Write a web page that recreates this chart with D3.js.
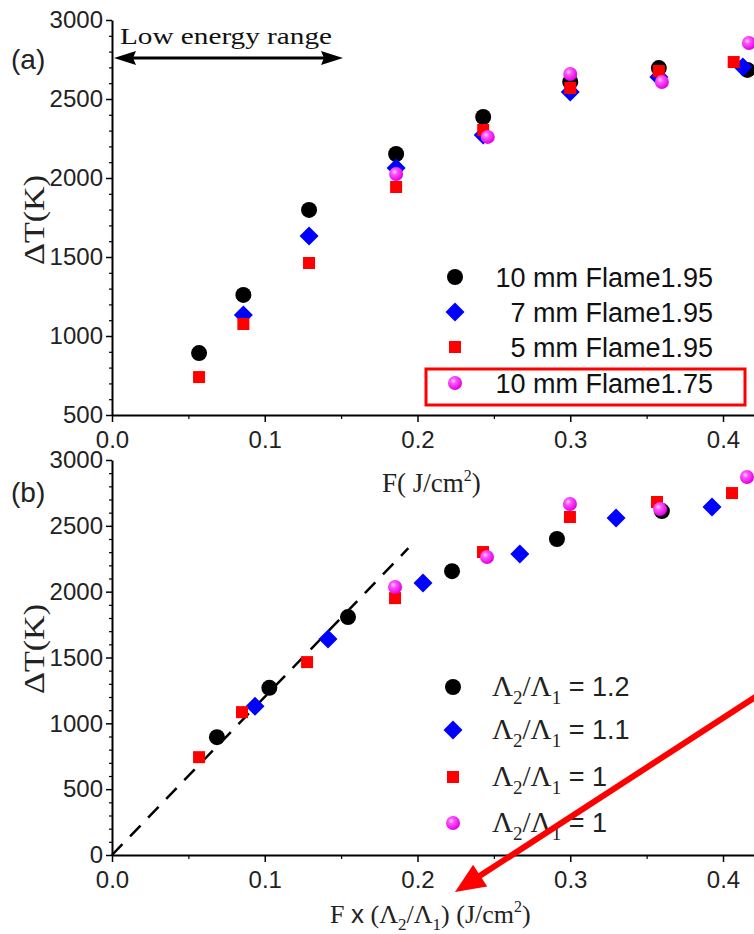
<!DOCTYPE html>
<html><head><meta charset="utf-8">
<script src="https://cdn.jsdelivr.net/npm/d3@7"></script>
<style>body{margin:0;background:#fff}svg{display:block}</style>
</head><body>
<svg id="c" width="754" height="934"></svg>
<script>
// ---------- DATA ----------
const xTicks = [0.0, 0.1, 0.2, 0.3, 0.4];
const xTickLabels = ["0.0", "0.1", "0.2", "0.3", "0.4"];
const yTicksTop = [500, 1000, 1500, 2000, 2500, 3000];
const yTicksBot = [0, 500, 1000, 1500, 2000, 2500, 3000];

// panel (a): x = F (J/cm2), y = dT (K)
const a10mm195X = [0.057, 0.086, 0.129, 0.186, 0.243, 0.300, 0.358, 0.416];
const a10mm195Y = [892, 1260, 1798, 2152, 2386, 2608, 2696, 2684];
const a7mm195X  = [0.086, 0.129, 0.186, 0.243, 0.300, 0.358, 0.413];
const a7mm195Y  = [1133, 1633, 2063, 2272, 2544, 2639, 2703];
const a5mm195X  = [0.057, 0.086, 0.129, 0.186, 0.243, 0.300, 0.358, 0.407];
const a5mm195Y  = [740, 1076, 1462, 1943, 2304, 2570, 2677, 2734];
const a10mm175X = [0.186, 0.246, 0.300, 0.360, 0.417];
const a10mm175Y = [2025, 2260, 2658, 2608, 2854];

// panel (b): x = F x (L2/L1)
const b12X  = [0.0687, 0.103, 0.1545, 0.2226, 0.2913, 0.360];
const b12Y  = [895, 1270, 1807, 2156, 2400, 2612];
const b11X  = [0.0936, 0.1414, 0.2036, 0.267, 0.330, 0.3928];
const b11Y  = [1130, 1640, 2065, 2286, 2559, 2643];
const b1X   = [0.057, 0.0851, 0.1277, 0.1853, 0.2429, 0.2998, 0.3568, 0.4059];
const b1Y   = [743, 1085, 1465, 1951, 2301, 2567, 2681, 2749];
const b1mX  = [0.1853, 0.2455, 0.2998, 0.3588, 0.4157];
const b1mY  = [2035, 2263, 2666, 2627, 2871];
const fitX  = [0, 0.194];
const fitY  = [0, 2330];

const legendA = ["10 mm Flame1.95", "7 mm Flame1.95", "5 mm Flame1.95", "10 mm Flame1.75"];
const legendB = ["1.2", "1.1", "1", "1"];

// ---------- DRAW ----------
const svg = d3.select("#c");
const SANS = "'Liberation Sans', Arial, sans-serif";
const SERIF = "'Liberation Serif', 'Times New Roman', serif";

const defs = svg.append("defs");
const g = defs.append("radialGradient").attr("id","sph").attr("cx","38%").attr("cy","35%").attr("r","65%");
g.append("stop").attr("offset","0%").attr("stop-color","#ffe0ff");
g.append("stop").attr("offset","30%").attr("stop-color","#ff55ff");
g.append("stop").attr("offset","100%").attr("stop-color","#e000e0");

const x = d3.scaleLinear().domain([0, 0.4]).range([112, 723]);
const xFull = x.copy().domain([0, x.invert(754)]).range([112, 754]);
const yTop = d3.scaleLinear().domain([500, 3000]).range([415, 20]);
const yBot = d3.scaleLinear().domain([0, 3000]).range([855, 460]);

function axes(y, yTicks, yMin) {
  const xa = svg.append("g").attr("transform", `translate(0,${y(yMin)})`)
    .call(d3.axisBottom(xFull).tickValues(xTicks).tickSize(7).tickSizeOuter(0).tickFormat((d,i)=>xTickLabels[i]));
  xa.select(".domain").attr("stroke-width", 2);
  xa.selectAll(".tick line").attr("stroke-width", 1.5);
  xa.selectAll("text").attr("font-family", SANS).attr("font-size", 24).attr("fill","#222").attr("y", 16);
  const xm = svg.append("g").attr("transform", `translate(0,${y(yMin)})`)
    .call(d3.axisBottom(xFull).tickValues([0.05,0.15,0.25,0.35]).tickSize(4).tickSizeOuter(0).tickFormat(""));
  xm.select(".domain").remove();
  xm.selectAll(".tick line").attr("stroke-width", 1.2);
  const ya = svg.append("g").attr("transform", `translate(112,0)`)
    .call(d3.axisLeft(y).tickValues(yTicks).tickSize(6).tickSizeOuter(0).tickFormat(d3.format("d")));
  ya.select(".domain").attr("stroke-width", 2);
  ya.selectAll(".tick line").attr("stroke-width", 1.5);
  ya.selectAll("text").attr("font-family", SANS).attr("font-size", 24).attr("fill","#222").attr("x", -9);
  const minors = d3.range(yMin, 3001, 100).filter(v => v % 500 !== 0);
  const ym = svg.append("g").attr("transform", `translate(112,0)`)
    .call(d3.axisLeft(y).tickValues(minors).tickSize(3).tickSizeOuter(0).tickFormat(""));
  ym.select(".domain").remove();
  ym.selectAll(".tick line").attr("stroke-width", 1.2);
}

const diamondPath = "M0,-9.5L9.5,0L0,9.5L-9.5,0Z";
function drawSeries(xs, ys, y, kind) {
  const data = xs.map((v,i)=>[v, ys[i]]);
  const grp = svg.append("g");
  if (kind === "circle") {
    grp.selectAll("circle").data(data).join("circle")
      .attr("cx", d=>x(d[0])).attr("cy", d=>y(d[1])).attr("r", 8).attr("fill","#000");
  } else if (kind === "diamond") {
    grp.selectAll("path").data(data).join("path")
      .attr("d", diamondPath).attr("transform", d=>`translate(${x(d[0])},${y(d[1])})`).attr("fill","#0000ff");
  } else if (kind === "square") {
    grp.selectAll("rect").data(data).join("rect")
      .attr("x", d=>x(d[0])-6).attr("y", d=>y(d[1])-6).attr("width",12).attr("height",12).attr("fill","#ff0000");
  } else {
    grp.selectAll("circle").data(data).join("circle")
      .attr("cx", d=>x(d[0])).attr("cy", d=>y(d[1])).attr("r", 7).attr("fill","url(#sph)");
  }
}
function marker(kind, cx, cy) {
  if (kind === "circle") svg.append("circle").attr("cx",cx).attr("cy",cy).attr("r",8).attr("fill","#000");
  else if (kind === "diamond") svg.append("path").attr("d",diamondPath).attr("transform",`translate(${cx},${cy})`).attr("fill","#0000ff");
  else if (kind === "square") svg.append("rect").attr("x",cx-6).attr("y",cy-6).attr("width",12).attr("height",12).attr("fill","#ff0000");
  else svg.append("circle").attr("cx",cx).attr("cy",cy).attr("r",7).attr("fill","url(#sph)");
}

// ----- panel (a)
axes(yTop, yTicksTop, 500);
drawSeries(a10mm195X, a10mm195Y, yTop, "circle");
drawSeries(a7mm195X, a7mm195Y, yTop, "diamond");
drawSeries(a5mm195X, a5mm195Y, yTop, "square");
drawSeries(a10mm175X, a10mm175Y, yTop, "sphere");

svg.append("text").attr("x", 11).attr("y", 69).attr("font-family", SANS).attr("font-size", 28).attr("fill","#222").text("(a)");
svg.append("text").attr("x", 120).attr("y", 44).attr("font-family", SERIF).attr("font-size", 24)
  .attr("textLength", 212).attr("lengthAdjust","spacingAndGlyphs").attr("fill","#111").text("Low energy range");
svg.append("line").attr("x1", 125).attr("x2", 332).attr("y1", 58).attr("y2", 58).attr("stroke","#000").attr("stroke-width",3);
svg.append("path").attr("d","M114,58 L136,51 L133,58 L136,65 Z").attr("fill","#000");
svg.append("path").attr("d","M343,58 L321,51 L324,58 L321,65 Z").attr("fill","#000");

svg.append("text").attr("transform","translate(44,220) rotate(-90)").attr("text-anchor","middle")
  .attr("font-family", SERIF).attr("font-size", 30).attr("textLength", 90).attr("lengthAdjust","spacingAndGlyphs").attr("fill","#222").text("ΔT(K)");
const xt = svg.append("text").attr("x", 382).attr("y", 492).attr("font-family", SERIF).attr("font-size", 27).attr("fill","#222");
xt.append("tspan").text("F( J/cm");
xt.append("tspan").attr("dy", -11).attr("font-size", 16).text("2");
xt.append("tspan").attr("dy", 11).text(")");

const kinds = ["circle","diamond","square","sphere"];
const legAY = [277, 312, 347, 383];
legendA.forEach((t,i)=>{
  marker(kinds[i], 455, legAY[i]);
  svg.append("text").attr("x", 713).attr("y", legAY[i]+10).attr("text-anchor","end")
    .attr("font-family", SANS).attr("font-size", 27).attr("fill","#111").text(t);
});
svg.append("rect").attr("x", 426).attr("y", 369).attr("width", 319).attr("height", 36)
  .attr("fill","none").attr("stroke","#ff0000").attr("stroke-width",3);

// ----- panel (b)
axes(yBot, yTicksBot, 0);
svg.append("path").datum(fitX.map((v,i)=>[v, fitY[i]]))
  .attr("d", d3.line().x(d=>x(d[0])).y(d=>yBot(d[1])))
  .attr("fill","none").attr("stroke","#000").attr("stroke-width",2.5).attr("stroke-dasharray","15,11");
drawSeries(b12X, b12Y, yBot, "circle");
drawSeries(b11X, b11Y, yBot, "diamond");
drawSeries(b1X, b1Y, yBot, "square");
drawSeries(b1mX, b1mY, yBot, "sphere");

svg.append("text").attr("x", 11).attr("y", 502).attr("font-family", SANS).attr("font-size", 28).attr("fill","#222").text("(b)");
svg.append("text").attr("transform","translate(44,649) rotate(-90)").attr("text-anchor","middle")
  .attr("font-family", SERIF).attr("font-size", 30).attr("textLength", 90).attr("lengthAdjust","spacingAndGlyphs").attr("fill","#222").text("ΔT(K)");

const bt = svg.append("text").attr("x", 330).attr("y", 923).attr("font-family", SERIF).attr("font-size", 26).attr("fill","#222");
bt.append("tspan").text("F ");
bt.append("tspan").attr("font-family", SANS).text("x");
bt.append("tspan").text(" (Λ");
bt.append("tspan").attr("dy", 7).attr("font-size", 17).text("2");
bt.append("tspan").attr("dy", -7).text("/Λ");
bt.append("tspan").attr("dy", 7).attr("font-size", 17).text("1");
bt.append("tspan").attr("dy", -7).text(") (J/cm");
bt.append("tspan").attr("dy", -11).attr("font-size", 16).text("2");
bt.append("tspan").attr("dy", 11).text(")");

const legBY = [687, 730, 777, 823];
legendB.forEach((v,i)=>{
  marker(kinds[i], 453, legBY[i]);
  const t = svg.append("text").attr("x", 492).attr("y", legBY[i]+9).attr("font-family", SERIF).attr("font-size", 29).attr("fill","#222");
  t.append("tspan").text("Λ");
  t.append("tspan").attr("dy", 8).attr("font-size", 19).text("2");
  t.append("tspan").attr("dy", -8).text("/Λ");
  t.append("tspan").attr("dy", 8).attr("font-size", 19).text("1");
  t.append("tspan").attr("dy", -8).attr("font-family", SANS).attr("font-size", 27).text(" = " + v);
});

// red arrow
const ax1 = 760, ay1 = 694, ax2 = 455, ay2 = 892;
const ang = Math.atan2(ay2-ay1, ax2-ax1);
const hl = 30, hw = 13;
const bx = ax2 - hl*Math.cos(ang), by = ay2 - hl*Math.sin(ang);
svg.append("line").attr("x1",ax1).attr("y1",ay1).attr("x2",bx+4*Math.cos(ang)).attr("y2",by+4*Math.sin(ang))
  .attr("stroke","#ff0000").attr("stroke-width",6);
svg.append("path").attr("d",`M${ax2},${ay2} L${bx - hw*Math.sin(ang)},${by + hw*Math.cos(ang)} L${bx + hw*Math.sin(ang)},${by - hw*Math.cos(ang)} Z`)
  .attr("fill","#ff0000");
</script>
</body></html>
